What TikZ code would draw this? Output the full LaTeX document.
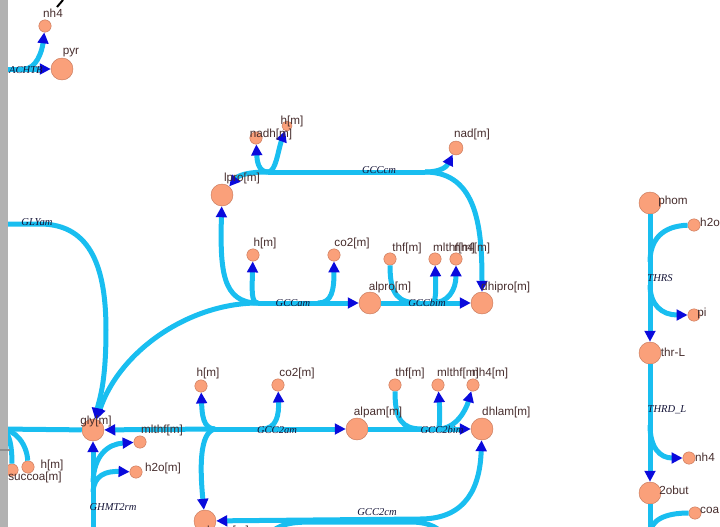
\documentclass[tikz,border=0pt]{standalone}
\usepackage{fontspec}
\setmainfont{Liberation Sans}
\newfontfamily\rxnfont{Liberation Serif}
\usepackage{tikz}
\usetikzlibrary{arrows.meta}

\definecolor{fluxblue}{RGB}{25,190,240}
\definecolor{tipblue}{RGB}{10,10,220}
\definecolor{metfill}{RGB}{250,160,122}
\definecolor{metdraw}{RGB}{200,120,90}
\definecolor{txtcol}{RGB}{70,45,45}
\definecolor{rxncol}{RGB}{20,20,55}
\definecolor{barg}{RGB}{178,178,178}

\begin{document}
\begin{tikzpicture}
  [
    x=0.03cm, y=-0.03cm,
    >={Triangle[length=0.33cm, width=0.32cm, color=tipblue]},
    Big/.style={circle, draw=metdraw, fill=metfill, line width=0.4pt, inner sep=0pt, minimum size=0.66cm},
    Small/.style={circle, draw=metdraw, fill=metfill, line width=0.4pt, inner sep=0pt, minimum size=0.37cm},
    Flux/.style={draw=fluxblue, line width=0.15cm},
    Label/.style={text=txtcol, font=\fontsize{10}{12}\selectfont, inner sep=0pt},
    Rxn/.style={text=rxncol, font=\rxnfont\itshape\fontsize{9}{11}\selectfont, inner sep=0pt}
  ]
  \useasboundingbox (0,0) rectangle (720,527);
  \clip (0,0) rectangle (720,527);

  % Nodes
  \node[Small] (nh4) at (45,26) {};
  \node[Big] (pyr) at (62,69) {};
  \node[Big] (lprom) at (222,195) {};
  \node[Small] (nadhm) at (256,138) {};
  \node[Small, minimum size=0.3cm] (hm1) at (287,126) {};
  \node[Small, minimum size=0.42cm] (nadm) at (456,148) {};
  \node[Small] (hm2) at (253,255) {};
  \node[Small] (co2m1) at (334,255) {};
  \node[Small] (thfm1) at (390,259) {};
  \node[Small] (mlthfm1) at (435,259) {};
  \node[Small] (nh4m1) at (456,259) {};
  \node[Big] (alprom) at (370,303) {};
  \node[Big] (dhiprom) at (482,303) {};
  \node[Big] (glym) at (93,430) {};
  \node[Small] (hm3) at (201,386) {};
  \node[Small] (co2m2) at (278,385) {};
  \node[Small] (thfm2) at (395,385) {};
  \node[Small] (mlthfm2) at (438,385) {};
  \node[Small] (nh4m2) at (473,385) {};
  \node[Big] (alpamm) at (357,429) {};
  \node[Big] (dhlamm) at (482,429) {};
  \node[Big] (lpamm) at (205,521) {};
  \node[Small] (mlthfm3) at (140,442) {};
  \node[Small] (h2om) at (136,472) {};
  \node[Small] (hm4) at (28,467) {};
  \node[Small] (succoam) at (12,470) {};
  \node[Big] (phom) at (650,203) {};
  \node[Small] (h2o) at (694,225) {};
  \node[Small] (pi1) at (694,315) {};
  \node[Big] (thrL) at (650,353) {};
  \node[Small] (nh4b) at (689,458) {};
  \node[Big] (obut) at (650,493) {};
  \node[Small] (coa) at (695,513) {};

  % Reaction points
  \coordinate (achin) at (0,69);
  \coordinate (ach1) at (24,69);
  \coordinate (gccc1) at (268,172);
  \coordinate (gccc2) at (425,172);
  \coordinate (gcca1) at (258,303);
  \coordinate (gcca2) at (318,303);
  \coordinate (gccb1) at (420,303);
  \coordinate (gccb2) at (432,303);
  \coordinate (gcc2a1) at (215,429);
  \coordinate (gcc2a2) at (262,429);
  \coordinate (gcc2b1) at (422,429);
  \coordinate (gcc2b2) at (438,429);
  \coordinate (gcc2c1) at (420,519);
  \coordinate (gcc2cin) at (262,540);
  \coordinate (gcc2cout) at (448,540);
  \coordinate (glyin) at (0,224);
  \coordinate (alasin) at (0,429);
  \coordinate (ghmtin) at (93,540);
  \coordinate (ghmt1) at (93,482);
  \coordinate (ghmt2) at (93,492);
  \coordinate (thrs1) at (650,262);
  \coordinate (thrs2) at (650,285);
  \coordinate (thrd1) at (650,425);
  \coordinate (obutout) at (650,540);
  \coordinate (coain) at (650,535);

  % Lines
  \path [Flux, ->] (achin) -- (pyr);
  \path [Flux, ->] (ach1) .. controls (36,69) and (42,52) .. (nh4);

  \path [Flux] (gccc1) -- (gccc2);
  \path [Flux, ->] (gccc1) .. controls (245,172) and (238,176) .. (lprom);
  \path [Flux, ->] (gccc1) .. controls (258,172) and (257,160) .. (nadhm);
  \path [Flux, ->] (gccc1) .. controls (276,172) and (278,150) .. (hm1);
  \path [Flux, ->] (gccc2) .. controls (442,172) and (447,166) .. (nadm);
  \path [Flux, ->] (gccc2) .. controls (478,172) and (482,230) .. (dhiprom);

  \path [Flux, ->] (gcca1) -- (alprom);
  \path [Flux, ->] (gcca1) .. controls (222,303) and (220,270) .. (lprom);
  \path [Flux, ->] (gcca1) .. controls (190,303) and (120,350) .. (glym);
  \path [Flux, ->] (gcca1) .. controls (251,303) and (252,290) .. (hm2);
  \path [Flux, ->] (gcca2) .. controls (332,303) and (334,290) .. (co2m1);

  \path [Flux, ->] (alprom) -- (dhiprom);
  \path [Flux] (thfm1) .. controls (390,295) and (398,303) .. (gccb1);
  \path [Flux, ->] (gccb2) .. controls (436,303) and (436,290) .. (mlthfm1);
  \path [Flux, ->] (gccb2) .. controls (448,303) and (456,290) .. (nh4m1);

  \path [Flux, ->] (gcc2a1) -- (glym);
  \path [Flux, ->] (gcc2a1) -- (alpamm);
  \path [Flux, ->] (gcc2a1) .. controls (203,429) and (202,414) .. (hm3);
  \path [Flux, ->] (gcc2a1) .. controls (199,432) and (200,470) .. (lpamm);
  \path [Flux, ->] (gcc2a2) .. controls (277,429) and (279,414) .. (co2m2);

  \path [Flux, ->] (alpamm) -- (dhlamm);
  \path [Flux] (thfm2) .. controls (395,420) and (402,429) .. (gcc2b1);
  \path [Flux, ->] (gcc2b2) .. controls (440,429) and (440,412) .. (mlthfm2);
  \path [Flux, ->] (gcc2b2) .. controls (456,429) and (466,410) .. (nh4m2);

  \path [Flux, ->] (gcc2c1) -- (lpamm);
  \path [Flux, ->] (gcc2c1) .. controls (468,519) and (480,485) .. (dhlamm);
  \path [Flux] (gcc2cin) .. controls (280,522) and (290,522) .. (320,522) -- (410,522) .. controls (430,522) and (440,528) .. (gcc2cout);

  \path [Flux, ->] (glyin) -- (40,224) .. controls (92,224) and (106,270) .. (106,330) .. controls (106,385) and (99,400) .. (glym);
  \path [Flux] (alasin) -- (glym);
  \path [Flux] (alasin) .. controls (9,429) and (12,445) .. (succoam);
  \path [Flux] (alasin) .. controls (16,429) and (27,445) .. (hm4);
  \path [Flux, ->] (ghmtin) -- (glym);
  \path [Flux, ->] (ghmt1) .. controls (94,455) and (108,444) .. (mlthfm3);
  \path [Flux, ->] (ghmt2) .. controls (94,475) and (106,471) .. (h2om);

  \path [Flux, ->] (phom) -- (thrL);
  \path [Flux] (h2o) .. controls (662,226) and (650,240) .. (thrs1);
  \path [Flux, ->] (thrs2) .. controls (650,305) and (662,315) .. (pi1);
  \path [Flux, ->] (thrL) -- (obut);
  \path [Flux, ->] (thrd1) .. controls (650,448) and (660,458) .. (nh4b);
  \path [Flux] (obut) -- (obutout);
  \path [Flux] (coa) .. controls (665,513) and (650,520) .. (coain);

  % Reaction labels
  \node[Rxn, anchor=west] (r-ach) at (9,70) {ACHTB};
  \node[Rxn] (r-gly) at (37,222) {GLYam};
  \node[Rxn] (r-gccc) at (379,170) {GCCcm};
  \node[Rxn] (r-gcca) at (293,303) {GCCam};
  \node[Rxn] (r-gccb) at (427,303) {GCCbim};
  \node[Rxn] (r-gcc2a) at (277,430) {GCC2am};
  \node[Rxn] (r-gcc2b) at (442,430) {GCC2bim};
  \node[Rxn] (r-gcc2c) at (377,512) {GCC2cm};
  \node[Rxn] (r-ghmt) at (113,507) {GHMT2rm};
  \node[Rxn] (r-thrs) at (660,278) {THRS};
  \node[Rxn] (r-thrd) at (667,410) {THRD\_L};

  % Metabolite labels
  \node[Label] (t-nh4) at (53,13) {nh4};
  \node[Label] (t-pyr) at (71,53) {pyr};
  \node[Label] (t-lprom) at (242,178) {lpro[m]};
  \node[Label] (t-nadhm) at (271,134) {nadh[m]};
  \node[Label] (t-hm1) at (292,121) {h[m]};
  \node[Label] (t-nadm) at (472,134) {nad[m]};
  \node[Label] (t-hm2) at (265,243) {h[m]};
  \node[Label] (t-co2m1) at (352,243) {co2[m]};
  \node[Label] (t-thfm1) at (407,248) {thf[m]};
  \node[Label, anchor=west] (t-mlthfm1) at (433,248) {mlthf[m]};
  \node[Label, anchor=west] (t-nh4m1) at (454,248) {nh4[m]};
  \node[Label] (t-alprom) at (390,287) {alpro[m]};
  \node[Label, anchor=west] (t-dhiprom) at (481,287) {dhipro[m]};
  \node[Label] (t-glym) at (96,421) {gly[m]};
  \node[Label] (t-hm3) at (208,373) {h[m]};
  \node[Label] (t-co2m2) at (297,373) {co2[m]};
  \node[Label] (t-thfm2) at (410,373) {thf[m]};
  \node[Label, anchor=west] (t-mlthfm2) at (437,373) {mlthf[m]};
  \node[Label, anchor=west] (t-nh4m2) at (472,373) {nh4[m]};
  \node[Label] (t-alpamm) at (378,412) {alpam[m]};
  \node[Label, anchor=west] (t-dhlamm) at (482,412) {dhlam[m]};
  \node[Label] (t-mlthfm3) at (162,430) {mlthf[m]};
  \node[Label] (t-h2om) at (163,468) {h2o[m]};
  \node[Label] (t-hm4) at (52,465) {h[m]};
  \node[Label] (t-succoam) at (35,477) {succoa[m]};
  \node[Label] (t-lpamm) at (228,531) {lpam[m]};
  \node[Label] (t-phom) at (673,201) {phom};
  \node[Label, anchor=west] (t-h2o) at (700,222) {h2o};
  \node[Label] (t-pi1) at (702,313) {pi};
  \node[Label] (t-thrL) at (673,352) {thr-L};
  \node[Label] (t-nh4b) at (705,457) {nh4};
  \node[Label] (t-obut) at (674,490) {2obut};
  \node[Label, anchor=west] (t-coa) at (700,510) {coa};

  % Frame
  \fill[barg] (0,0) rectangle (8,527);
  \draw[barg!80!black, line width=0.05cm] (0,450) -- (10,450);
  \draw[line width=0.06cm] (63,0) -- (57,7);
\end{tikzpicture}
\end{document}
